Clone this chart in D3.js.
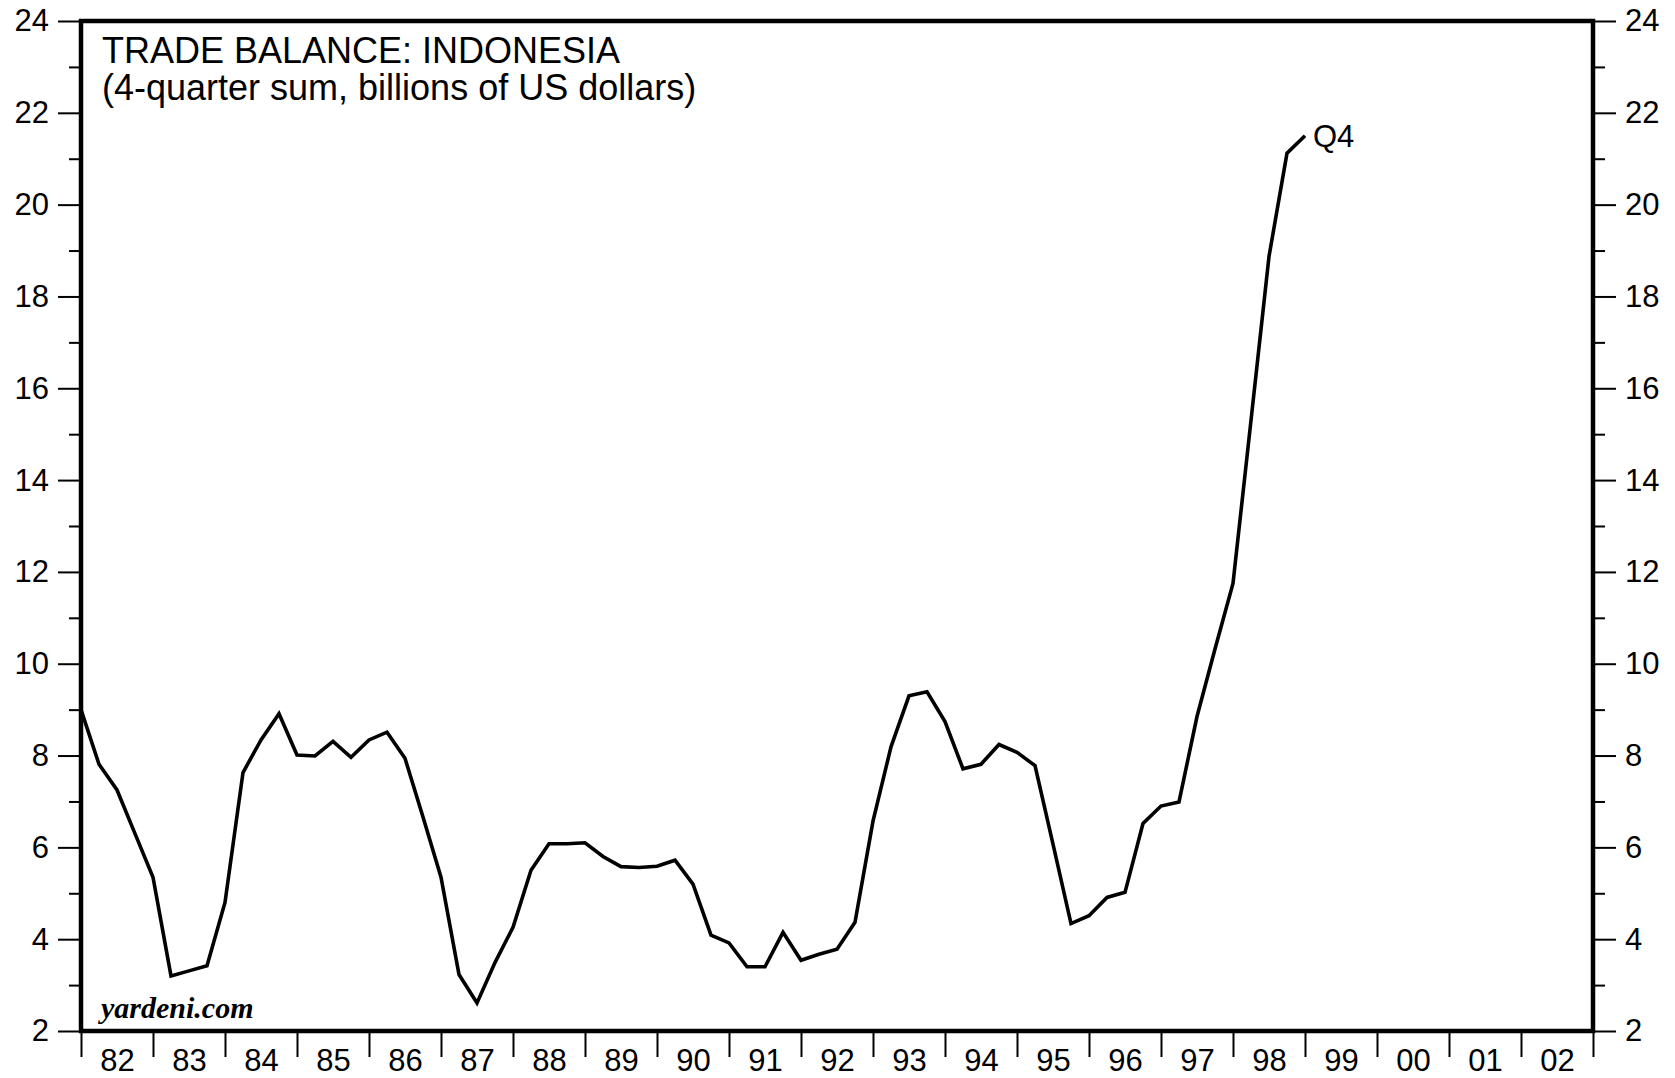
<!DOCTYPE html>
<html lang="en">
<head>
<meta charset="UTF-8">
<title>Trade Balance: Indonesia</title>
<script src="https://d3js.org/d3.v7.min.js"></script>
<style>
    body { margin: 0; background: #fff; }
    svg { display: block; font-family: "Liberation Sans", Arial, sans-serif; }
    .axis text { font-size: 31px; fill: #000; }
    .axis line { stroke: #000; stroke-width: 2; }
    .title { font-size: 36px; fill: #000; }
    .credit { font-family: "Liberation Serif", "Times New Roman", serif; font-weight: bold; font-style: italic; font-size: 30px; }
</style>
</head>
<body>
<svg width="1675" height="1078"></svg>
<script>
// quarterly, 4-quarter sum, 1981 Q4 .. 1998 Q4, plotted at quarter end
const firstQuarterEnd = 1982.0;
const tradeBalance = [
    9.00,
    7.81, 7.25, 6.30, 5.35,   // 82
    3.20, 3.31, 3.42, 4.80,   // 83
    7.63, 8.34, 8.91, 8.01,   // 84
    7.99, 8.31, 7.96, 8.34,   // 85
    8.51, 7.94, 6.66, 5.35,   // 86
    3.23, 2.61, 3.49, 4.26,   // 87
    5.50, 6.08, 6.08, 6.10,   // 88
    5.80, 5.58, 5.56, 5.59,   // 89
    5.72, 5.20, 4.09, 3.92,   // 90
    3.40, 3.40, 4.15, 3.54,   // 91
    3.67, 3.78, 4.37, 6.57,   // 92
    8.19, 9.30, 9.39, 8.74,   // 93
    7.71, 7.81, 8.24, 8.07,   // 94
    7.78, 6.07, 4.34, 4.51,   // 95
    4.91, 5.02, 6.52, 6.90,   // 96
    6.99, 8.85, 10.32, 11.75, // 97
    15.3, 18.87, 21.12, 21.50 // 98
];
const yearLabels = ["82","83","84","85","86","87","88","89","90","91","92",
                    "93","94","95","96","97","98","99","00","01","02"];
const yMajor = [2, 4, 6, 8, 10, 12, 14, 16, 18, 20, 22, 24];
const yMinor = [3, 5, 7, 9, 11, 13, 15, 17, 19, 21, 23];
const lastLabel = "Q4";

const svg = d3.select("svg"),
      margin = { top: 21, right: 82, bottom: 47, left: 81 },
      width = +svg.attr("width") - margin.left - margin.right,
      height = +svg.attr("height") - margin.top - margin.bottom,
      g = svg.append("g").attr("transform", `translate(${margin.left},${margin.top})`);

const years = yearLabels.map((d, i) => 1982 + i);

const x = d3.scaleLinear()
    .domain([1982, 2003])
    .range([0, width]);

const y = d3.scaleLinear()
    .domain([2, 24])
    .range([height, 0]);

const points = tradeBalance.map((v, i) => ({ t: firstQuarterEnd + i / 4, v: v }));

// left / right axes, major + minor ticks
function yAxis(axisFn, xOff) {
    g.append("g").attr("class", "axis").attr("transform", `translate(${xOff},0)`)
        .call(axisFn(y).tickValues(yMajor).tickSize(23).tickPadding(9).tickFormat(d3.format("d")))
        .call(a => a.select(".domain").remove());
    g.append("g").attr("class", "axis").attr("transform", `translate(${xOff},0)`)
        .call(axisFn(y).tickValues(yMinor).tickSize(12).tickFormat(""))
        .call(a => a.select(".domain").remove());
}
yAxis(d3.axisLeft, 0);
yAxis(d3.axisRight, width);

// year ticks on boundaries, labels centred in the year
g.append("g").attr("class", "axis").attr("transform", `translate(0,${height})`)
    .call(d3.axisBottom(x).tickValues(years.concat([2003])).tickSize(26).tickFormat(""))
    .call(a => a.select(".domain").remove());
g.append("g").attr("class", "axis").attr("transform", `translate(0,${height})`)
    .call(d3.axisBottom(x).tickValues(years.map(d => d + 0.5)).tickSize(0).tickPadding(18)
        .tickFormat((d, i) => yearLabels[i]))
    .call(a => a.select(".domain").remove());

// frame
g.append("rect")
    .attr("width", width)
    .attr("height", height)
    .attr("fill", "none")
    .attr("stroke", "#000")
    .attr("stroke-width", 4.5);

const line = d3.line()
    .x(d => x(d.t))
    .y(d => y(d.v));

g.append("path")
    .datum(points)
    .attr("fill", "none")
    .attr("stroke", "#000")
    .attr("stroke-width", 3.6)
    .attr("d", line);

const last = points[points.length - 1];
g.append("text")
    .attr("x", x(last.t) + 8)
    .attr("y", y(last.v))
    .attr("dy", "0.36em")
    .style("font-size", "31px")
    .text(lastLabel);

// title
const title = g.append("text").attr("class", "title").attr("x", 21).attr("y", 42);
title.append("tspan").attr("x", 21).text("TRADE BALANCE: INDONESIA");
title.append("tspan").attr("x", 21).attr("dy", 37).text("(4-quarter sum, billions of US dollars)");

g.append("text")
    .attr("class", "credit")
    .attr("x", 20)
    .attr("y", height - 13)
    .text("yardeni.com");
</script>
</body>
</html>
